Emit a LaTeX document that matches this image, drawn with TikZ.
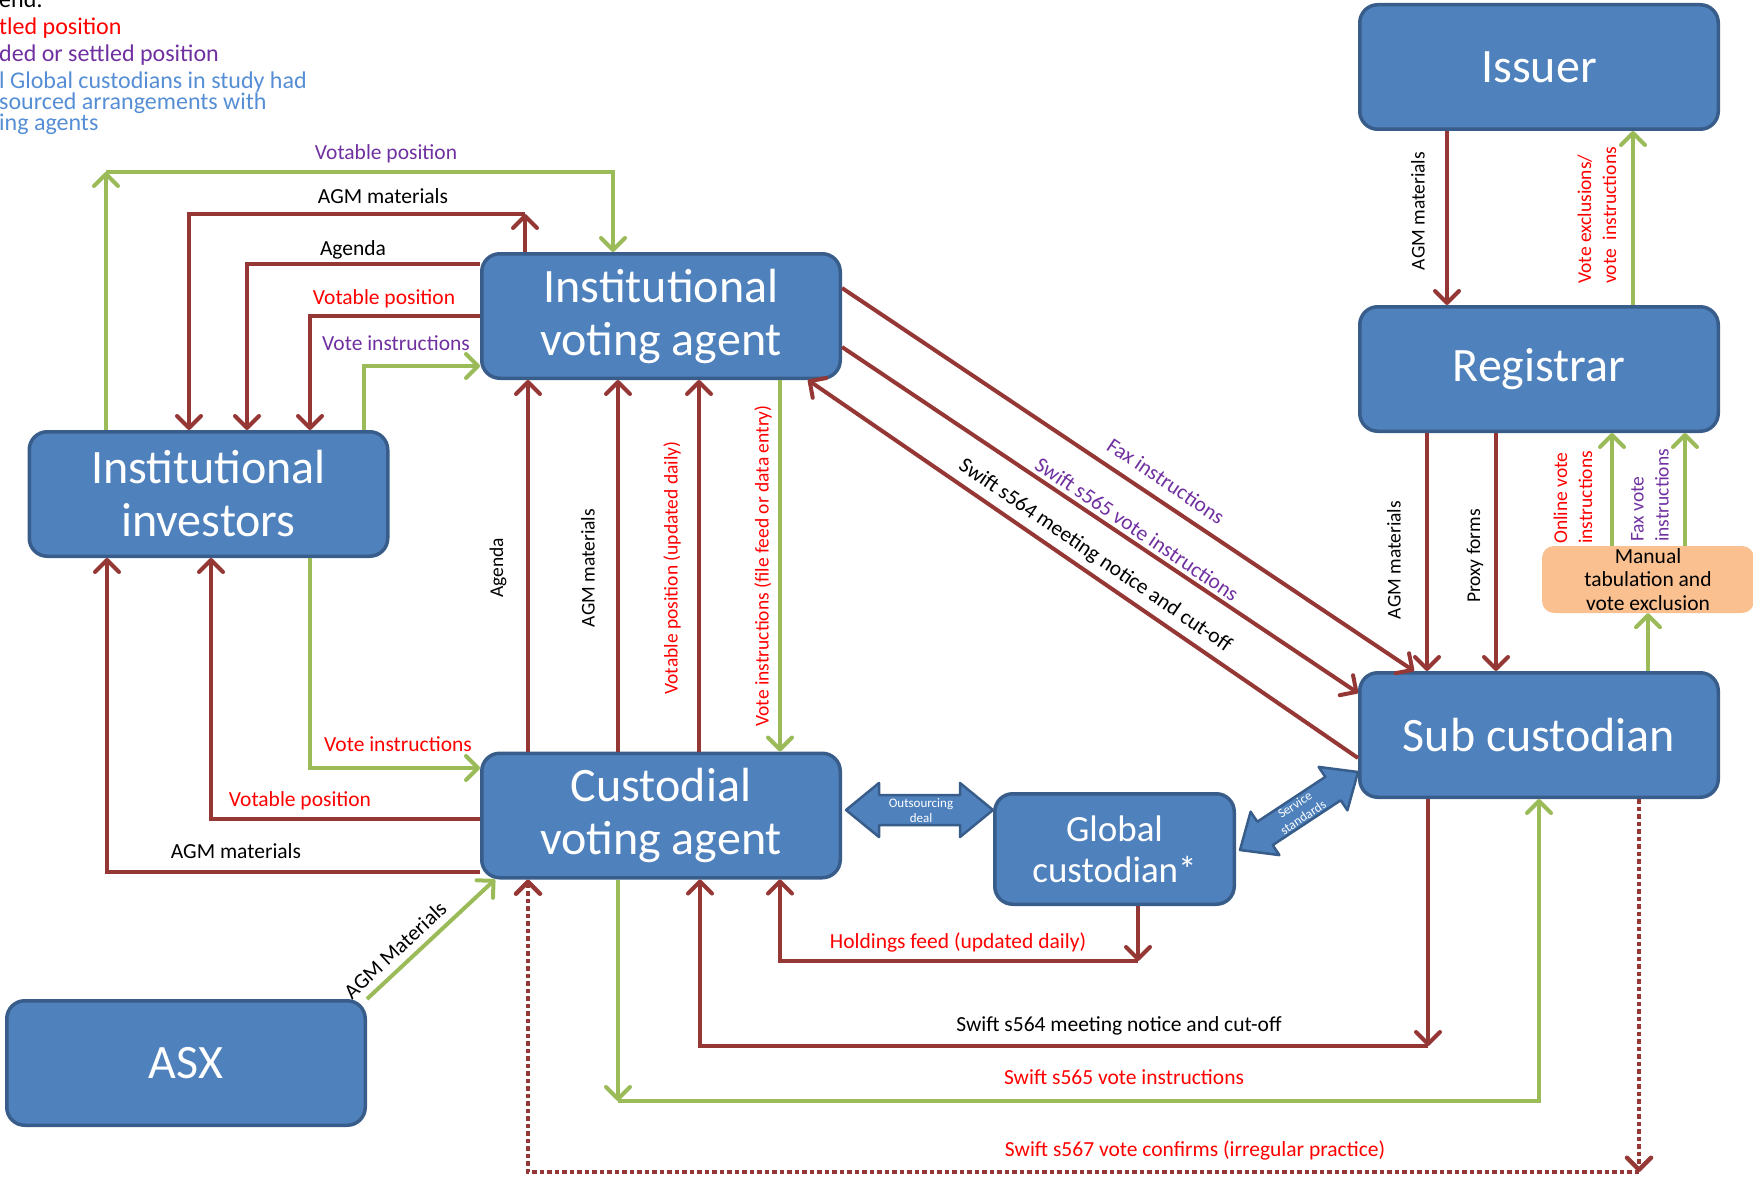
\documentclass[tikz,border=0pt]{standalone}
\usepackage{fontspec}
\setmainfont{Carlito}
\usetikzlibrary{arrows.meta}
\definecolor{boxfill}{HTML}{4F81BD}
\definecolor{boxline}{HTML}{385D8A}
\definecolor{darkred}{HTML}{953735}
\definecolor{lgreen}{HTML}{9BBB59}
\definecolor{tred}{HTML}{FF0000}
\definecolor{tpurple}{HTML}{7030A0}
\definecolor{tblue}{HTML}{558ED5}
\definecolor{lorange}{HTML}{FAC090}
\tikzset{
  bigbox/.style={draw=boxline, fill=boxfill, line width=3.5pt, rounded corners=18pt,
    text=white, align=center, inner sep=0pt, minimum width=358.5pt, minimum height=124.5pt,
    font=\fontsize{48}{53}\selectfont},
  gcbox/.style={bigbox, minimum width=239.5pt, minimum height=110.5pt, font=\fontsize{37}{41}\selectfont},
  manualbox/.style={fill=lorange, rounded corners=12pt, align=center, inner sep=0pt,
    minimum width=212pt, minimum height=67pt, font=\fontsize{21.5}{23.5}\selectfont},
  tipstyle/.style={-{Straight Barb[length=12pt,width=24pt,round]}},
  redarrow/.style={draw=darkred, line width=4pt, tipstyle},
  greenarrow/.style={draw=lgreen, line width=4pt, tipstyle},
  dotarrow/.style={draw=darkred, line width=4.5pt, dash pattern=on 4.5pt off 3pt, tipstyle},
  blockarrow/.style={fill=boxfill, draw=boxline, line width=2.5pt, line join=round},
  lbl/.style={font=\fontsize{21.5}{24}\selectfont, inner sep=0pt},
  hlbl/.style={lbl, anchor=base},
  vlbl/.style={font=\fontsize{19.5}{25}\selectfont, inner sep=0pt, rotate=90},
  smalltxt/.style={font=\fontsize{13}{15}\selectfont, text=white, align=center, inner sep=0pt},
  legendtxt/.style={font=\fontsize{24}{26}\selectfont, inner sep=0pt, anchor=base west}
}
\begin{document}
\begin{tikzpicture}[x=1pt,y=-1pt]
\useasboundingbox (0,0) rectangle (1753,1180);
\clip (0,0) rectangle (1753,1180);

% legend (cut at the left edge)
\node[legendtxt] (lg0) at (-1,8) {end:};
\node[legendtxt, text=tred] (lg1) at (-1,35) {tled position};
\node[legendtxt, text=tpurple] (lg2) at (-1,62) {ded or settled position};
\node[legendtxt, text=tblue] (lg3) at (-1,89) {l Global custodians in study had};
\node[legendtxt, text=tblue] (lg4) at (-1,110) {sourced arrangements with};
\node[legendtxt, text=tblue] (lg5) at (-1,131) {ing agents};

% boxes
\node[bigbox] (issuer) at (1539,67) {Issuer};
\node[bigbox] (registrar) at (1539,369) {Registrar};
\node[bigbox] (sub) at (1539,735) {Sub custodian};
\node[bigbox] (iva) at (661,316) {Institutional\\voting agent};
\node[bigbox] (ii) at (208.5,494) {Institutional\\investors};
\node[bigbox] (cva) at (661,815.5) {Custodial\\voting agent};
\node[gcbox] (gc) at (1114.5,849) {Global\\custodian*};
\node[bigbox] (asx) at (186,1063) {ASX};
\node[manualbox] (manual) at (1648,579.5) {Manual\\tabulation and\\vote exclusion};

% top-left connectors between investors and institutional voting agent
\coordinate (cvp) at (106,172);
\draw[greenarrow] (106,0 |- ii.north) -- (cvp);
\draw[greenarrow] (cvp) -- (613,172) -- (613,0 |- iva.north);
\coordinate (cagm) at (525,214);
\draw[redarrow] (525,0 |- iva.north) -- (cagm);
\draw[redarrow] (cagm) -- (189,214) -- (189,0 |- ii.north);
\draw[redarrow] (iva.west |- 0,264) -- (247,264) -- (247,0 |- ii.north);
\draw[redarrow] (iva.west |- 0,316) -- (310,316) -- (310,0 |- ii.north);
\draw[greenarrow] (364,0 |- ii.north) -- (364,366) -- (iva.west |- 0,366);
\node[hlbl, text=tpurple] (l1) at (386,160) {Votable position};
\node[hlbl] (l2) at (383,203) {AGM materials};
\node[hlbl] (l3) at (353,255) {Agenda};
\node[hlbl, text=tred] (l4) at (384,304) {Votable position};
\node[hlbl, text=tpurple] (l5) at (396,350) {Vote instructions};

% lower-left connectors between investors and custodial voting agent
\draw[greenarrow] (310,0 |- ii.south) -- (310,768) -- (cva.west |- 0,768);
\draw[redarrow] (cva.west |- 0,819) -- (211,819) -- (211,0 |- ii.south);
\draw[redarrow] (cva.west |- 0,872) -- (107,872) -- (107,0 |- ii.south);
\node[hlbl, text=tred] (l6) at (398,751) {Vote instructions};
\node[hlbl, text=tred] (l7) at (300,806) {Votable position};
\node[hlbl] (l8) at (236,858) {AGM materials};

% verticals between the two voting agents
\draw[redarrow] (528,0 |- cva.north) -- (528,0 |- iva.south);
\draw[redarrow] (618,0 |- cva.north) -- (618,0 |- iva.south);
\draw[redarrow] (699,0 |- cva.north) -- (699,0 |- iva.south);
\draw[greenarrow] (780,0 |- iva.south) -- (780,0 |- cva.north);
\node[vlbl] (l9) at (498,568) {Agenda};
\node[vlbl] (l10) at (588,568) {AGM materials};
\node[vlbl, text=tred] (l11) at (672,568) {Votable position (updated daily)};
\node[vlbl, text=tred] (l12) at (763,566) {Vote instructions (file feed or data entry)};

% diagonals between institutional voting agent and sub custodian
\draw[redarrow] (iva.east |- 0,288) -- (1414,0 |- sub.north);
\draw[redarrow] (iva.east |- 0,347) -- (sub.west |- 0,693);
\draw[redarrow] (sub.west |- 0,758) -- (808,0 |- iva.south);
\node[lbl, text=tpurple, rotate=-34] (l13) at (1166,481) {Fax instructions};
\node[lbl, text=tpurple, rotate=-34] (l14) at (1137,529) {Swift s565 vote instructions};
\node[lbl, rotate=-34.4] (l15) at (1095,556) {Swift s564 meeting notice and cut-off};

% issuer / registrar / sub custodian
\draw[redarrow] (1447,0 |- issuer.south) -- (1447,0 |- registrar.north);
\draw[greenarrow] (1633,0 |- registrar.north) -- (1633,0 |- issuer.south);
\node[vlbl] (l16) at (1418,211) {AGM materials};
\node[vlbl, text=tred, align=left, anchor=west] (l17) at (1597,284) {Vote exclusions/\\vote\ \ instructions};
\draw[redarrow] (1427,0 |- registrar.south) -- (1427,0 |- sub.north);
\draw[redarrow] (1496,0 |- registrar.south) -- (1496,0 |- sub.north);
\draw[greenarrow] (1612,0 |- manual.north) -- (1612,0 |- registrar.south);
\draw[greenarrow] (1685,0 |- manual.north) -- (1685,0 |- registrar.south);
\draw[greenarrow] (1648,0 |- sub.north) -- (1648,0 |- manual.south);
\node[vlbl] (l18) at (1394,560) {AGM materials};
\node[vlbl] (l19) at (1475,556) {Proxy forms};
\node[vlbl, text=tred, align=left, anchor=west] (l20) at (1573,544) {Online vote\\instructions};
\node[vlbl, text=tpurple, align=left, anchor=west] (l21) at (1650,542) {Fax vote\\instructions};

% block arrows
\draw[blockarrow] (846,810) -- (879,783) -- (879,795) -- (960,795) -- (960,783) -- (993,810)
  -- (960,837) -- (960,825) -- (879,825) -- (879,837) -- cycle;
\node[smalltxt] (outs) at (921,811) {Outsourcing\\deal};
\draw[blockarrow] (1240,850) -- (1250.6,811.7) -- (1257.3,821.7) -- (1325.3,776.9) -- (1318.6,766.9)
  -- (1358,772) -- (1347.4,810.3) -- (1340.7,800.3) -- (1272.7,845.1) -- (1279.4,855.1) -- cycle;
\node[smalltxt, rotate=33.5] (serv) at (1299,811) {Service\\standards};

% ASX
\draw[greenarrow] (asx.north east) -- (495,0 |- cva.south);
\node[lbl, rotate=43] (l22) at (395,950) {AGM Materials};

% bottom connectors
\coordinate (chf) at (1138,961);
\draw[redarrow] (1138,0 |- gc.south) -- (chf);
\draw[redarrow] (chf) -- (780,961) -- (780,0 |- cva.south);
\node[hlbl, text=tred] (l23) at (958,948) {Holdings feed (updated daily)};
\coordinate (c564) at (1428,1046);
\draw[redarrow] (1428,0 |- sub.south) -- (c564);
\draw[redarrow] (c564) -- (700,1046) -- (700,0 |- cva.south);
\node[hlbl] (l24) at (1119,1031) {Swift s564 meeting notice and cut-off};
\coordinate (c565) at (618,1101);
\draw[greenarrow] (618,0 |- cva.south) -- (c565);
\draw[greenarrow] (c565) -- (1539,1101) -- (1539,0 |- sub.south);
\node[hlbl, text=tred] (l25) at (1124,1084) {Swift s565 vote instructions};
\coordinate (c567) at (1639,1172);
\draw[dotarrow] (1639,0 |- sub.south) -- (c567);
\draw[dotarrow] (c567) -- (528,1172) -- (528,0 |- cva.south);
\node[hlbl, text=tred] (l26) at (1195,1156) {Swift s567 vote confirms (irregular practice)};
\end{tikzpicture}
\end{document}
